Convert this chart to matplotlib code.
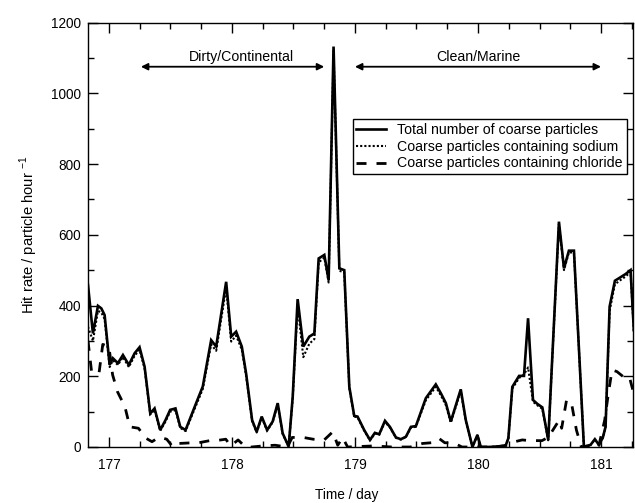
import matplotlib
matplotlib.use("Agg")
import matplotlib.pyplot as plt
from matplotlib.ticker import MultipleLocator

plt.rcParams['font.family'] = ['Liberation Sans', 'DejaVu Sans']
plt.rcParams['mathtext.fontset'] = 'custom'
plt.rcParams['mathtext.rm'] = 'Liberation Sans'

# ---- data ----
total_day = [176.830, 176.870, 176.911, 176.938, 176.965, 177.006, 177.032, 177.073, 177.114, 177.162,
             177.209, 177.249, 177.290, 177.336, 177.371, 177.417, 177.460, 177.498, 177.541, 177.580,
             177.623, 177.709, 177.763, 177.831, 177.872, 177.953, 177.994, 178.034, 178.080, 178.115,
             178.164, 178.201, 178.242, 178.286, 178.331, 178.372, 178.412, 178.461, 178.494, 178.534,
             178.580, 178.629, 178.670, 178.705, 178.751, 178.786, 178.826, 178.873, 178.913, 178.954,
             178.994, 179.021, 179.075, 179.122, 179.162, 179.197, 179.244, 179.284, 179.333, 179.373,
             179.414, 179.455, 179.495, 179.576, 179.657, 179.698, 179.739, 179.779, 179.860, 179.901,
             179.955, 179.995, 180.023, 180.090, 180.171, 180.226, 180.247, 180.279, 180.334, 180.374,
             180.407, 180.447, 180.482, 180.523, 180.571, 180.658, 180.699, 180.739, 180.780, 180.861,
             180.915, 180.950, 180.983, 181.015, 181.037, 181.070, 181.113, 181.159, 181.200, 181.240,
             181.267]
total = [458, 321, 399, 392, 373, 232, 251, 237, 260, 232,
         265, 282, 227, 95, 109, 48, 76, 105, 109, 57,
         48, 124, 171, 302, 284, 467, 312, 326, 284, 208,
         76, 43, 86, 48, 72, 124, 39, 1, 142, 418,
         284, 312, 321, 533, 543, 472, 1132, 505, 500, 170,
         88, 86, 48, 20, 40, 36, 74, 57, 27, 22,
         29, 57, 59, 138, 177, 152, 124, 72, 163, 76,
         0, 34, 0, 0, 2, 5, 25, 170, 201, 201,
         364, 133, 122, 112, 20, 637, 505, 555, 555, 1,
         6, 22, 6, 27, 57, 397, 470, 480, 489, 500,
         330]
sodium = [340, 300, 385, 380, 362, 226, 245, 232, 254, 226,
          258, 275, 222, 92, 105, 46, 72, 100, 104, 54,
          45, 118, 164, 290, 272, 450, 298, 315, 275, 202,
          73, 41, 83, 46, 70, 120, 37, 1, 137, 400,
          254, 292, 305, 522, 535, 465, 1120, 498, 494, 166,
          86, 84, 46, 19, 38, 35, 71, 55, 26, 21,
          28, 55, 57, 132, 170, 146, 118, 69, 158, 73,
          0, 33, 0, 0, 2, 5, 24, 165, 195, 205,
          225, 128, 118, 108, 19, 630, 500, 550, 550, 1,
          6, 21, 6, 26, 55, 385, 460, 472, 482, 495,
          325]
chloride_day = [176.83, 176.86, 176.92, 176.95, 177.00, 177.03, 177.07, 177.13, 177.17, 177.24,
                177.30, 177.35, 177.41, 177.47, 177.52, 177.57, 177.68, 177.73, 177.82, 177.87,
                177.95, 177.99, 178.05, 178.11, 178.16, 178.25, 178.35, 178.45, 178.49, 178.58,
                178.66, 178.75, 178.82, 178.86, 178.90, 178.94, 179.15, 179.30, 179.45, 179.55,
                179.62, 179.68, 179.73, 179.80, 179.87, 180.00, 180.20, 180.30, 180.36, 180.42,
                180.52, 180.58, 180.60, 180.66, 180.68, 180.72, 180.76, 180.80, 180.84, 180.98,
                181.03, 181.06, 181.09, 181.13, 181.18, 181.23, 181.267]
chloride = [300, 210, 210, 290, 284, 204, 156, 114, 57, 53,
            25, 15, 28, 22, 0, 10, 12, 12, 18, 18,
            22, 3, 20, 0, 0, 3, 5, 0, 27, 27,
            22, 20, 43, 5, 27, 0, 3, 0, 0, 10,
            12, 25, 12, 12, 0, 0, 0, 15, 20, 18,
            18, 29, 43, 76, 53, 133, 124, 48, 0, 0,
            76, 152, 218, 213, 199, 199, 150]
series_labels = ["Total number of coarse particles",
                 "Coarse particles containing sodium",
                 "Coarse particles containing chloride"]
period_labels = ["Dirty/Continental", "Clean/Marine"]
period_start = [177.26, 179.0]
period_end = [178.75, 181.0]
period_text_x = [178.08, 180.0]

# ---- figure ----
fig = plt.figure(figsize=(6.35, 5.03), dpi=100)
ax = fig.add_axes([88/635, 1 - 447/503, 545/635, 424.5/503])

ax.plot(total_day, total, color='black', lw=1.9, solid_joinstyle='miter', label=series_labels[0])
ax.plot(total_day, sodium, color='black', lw=1.5, linestyle=(0, (1, 1)), label=series_labels[1])
ax.plot(chloride_day, chloride, color='black', lw=2.0, linestyle=(0, (3.6, 3.6)), label=series_labels[2])

ax.set_xlim(176.83, 181.26)
ax.set_ylim(0, 1200)
ax.xaxis.set_major_locator(MultipleLocator(1))
ax.xaxis.set_minor_locator(MultipleLocator(0.25))
ax.yaxis.set_major_locator(MultipleLocator(200))
ax.yaxis.set_minor_locator(MultipleLocator(100))
ax.tick_params(which='both', direction='in', top=True, right=True, width=1.0, labelsize=9.8)
ax.tick_params(which='major', length=7.5)
ax.tick_params(which='minor', length=4)
ax.tick_params(axis='x', pad=8)
ax.tick_params(axis='y', pad=5)
for s in ax.spines.values():
    s.set_linewidth(1.0)

ax.set_xlabel("Time / day", fontsize=9.8)
ax.xaxis.set_label_coords(0.475, -0.097)
ax.set_ylabel("Hit rate / particle hour $^{\\mathregular{-1}}$", fontsize=10.6)
ax.yaxis.set_label_coords(-0.088, 0.5)

for lab, x0, x1, xt in zip(period_labels, period_start, period_end, period_text_x):
    ax.annotate('', xy=(x0, 1075), xytext=(x1, 1075),
                arrowprops=dict(arrowstyle='<|-|>', color='black', lw=1.3,
                                mutation_scale=10, shrinkA=0, shrinkB=0))
    ax.text(xt, 1102, lab, ha='center', va='center', fontsize=10.2)

leg = ax.legend(loc='upper left', bbox_to_anchor=(0.486, 0.772), fontsize=10.2,
                frameon=True, fancybox=False, edgecolor='black', framealpha=1,
                handlelength=2.1, borderpad=0.25, labelspacing=0.2, handletextpad=0.8,
                borderaxespad=0)
leg.get_frame().set_linewidth(1.0)

fig.savefig("out.png", dpi=100)
